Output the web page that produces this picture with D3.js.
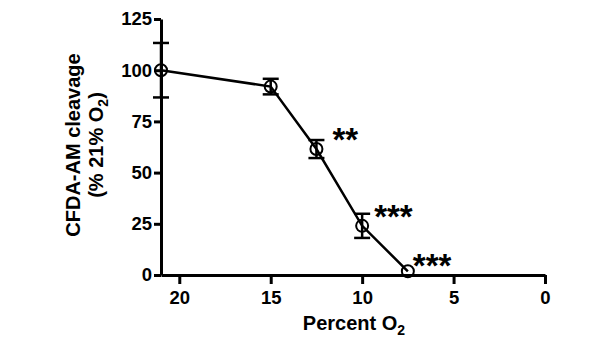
<!DOCTYPE html>
<html lang="en">
    <head>
        <meta charset="utf-8">
        <title>CFDA-AM cleavage</title>
        <script src="https://d3js.org/d3.v7.min.js"></script>
        <style type="text/css">
            body { margin: 0; background: white; }
            .axis path,
            .axis line {
                stroke: black;
                stroke-width: 3px;
            }
            .axis text {
                font-family: "Liberation Sans", Arial, sans-serif;
                font-size: 18.5px;
                font-weight: bold;
                fill: black;
            }
            .title {
                font-family: "Liberation Sans", Arial, sans-serif;
                font-size: 20px;
                font-weight: bold;
                fill: black;
            }
            .star {
                font-family: "Liberation Sans", Arial, sans-serif;
                font-size: 33px;
                font-weight: bold;
                fill: black;
            }
        </style>
    </head>
    <body>
        <script type="text/javascript">

            const w = 600;
            const h = 355;

            // data
            const oxygen = [21, 15, 12.5, 10, 7.5];
            const cleavage = [100, 92, 61.5, 24, 1.8];
            const sem = [13.3, 3.8, 4.4, 5.9, 0];
            const stars = ["", "", "**", "***", "***"];
            const xTicks = [20, 15, 10, 5, 0];
            const yTicks = [0, 25, 50, 75, 100, 125];

            // label nudges (px) for the asterisks, per point
            const starDx = [0, 0, 16, 12, 5];
            const starDy = [0, 0, 2, 2, 6];

            const data = oxygen.map((o, i) => ({o: o, v: cleavage[i], e: sem[i], s: stars[i], dx: starDx[i], dy: starDy[i]}));

            const xScale = d3.scaleLinear()
                             .domain([21, 0])
                             .range([161, 545]);

            const yScale = d3.scaleLinear()
                             .domain([0, 125])
                             .range([275, 19]);

            const svg = d3.select("body")
                    .append("svg")
                    .attr("width", w)
                    .attr("height", h);

            // bottom axis
            const bottomAxis = d3.axisBottom(xScale)
                                 .tickValues(xTicks)
                                 .tickSize(9)
                                 .tickSizeOuter(0)
                                 .tickPadding(7);

            svg.append("g")
               .attr("class", "axis")
               .attr("transform", "translate(0," + yScale(0) + ")")
               .call(bottomAxis);

            // left axis
            const leftAxis = d3.axisLeft(yScale)
                               .tickValues(yTicks)
                               .tickSize(7)
                               .tickSizeOuter(0)
                               .tickPadding(2);

            svg.append("g")
               .attr("class", "axis")
               .attr("transform", "translate(" + xScale(21) + ",0)")
               .call(leftAxis);

            // error bars
            const bars = svg.append("g");
            data.filter(d => d.e > 0).forEach(d => {
                const x = xScale(d.o);
                bars.append("line")
                    .attr("x1", x).attr("x2", x)
                    .attr("y1", yScale(d.v + d.e)).attr("y2", yScale(d.v - d.e))
                    .attr("stroke", "black").attr("stroke-width", 2.5);
                [d.v + d.e, d.v - d.e].forEach(v => {
                    bars.append("line")
                        .attr("x1", x - 8).attr("x2", x + 8)
                        .attr("y1", yScale(v)).attr("y2", yScale(v))
                        .attr("stroke", "black").attr("stroke-width", 2.5);
                });
            });

            // line
            const coords = d3.line()
                .x(d => xScale(d.o))
                .y(d => yScale(d.v));

            svg.append("path")
               .datum(data)
               .attr("d", coords)
               .attr("fill", "none")
               .attr("stroke", "black")
               .attr("stroke-width", 2.5);

            // points
            svg.selectAll(".pt")
               .data(data)
               .join("circle")
               .attr("class", "pt")
               .attr("cx", d => xScale(d.o))
               .attr("cy", d => yScale(d.v))
               .attr("r", 6)
               .attr("fill", "none")
               .attr("stroke", "black")
               .attr("stroke-width", 2);

            // significance stars
            svg.selectAll(".star")
               .data(data.filter(d => d.s))
               .join("text")
               .attr("class", "star")
               .attr("x", d => xScale(d.o) + d.dx)
               .attr("y", d => yScale(d.v) + d.dy)
               .text(d => d.s);

            // axis titles
            const xt = svg.append("text")
               .attr("class", "title")
               .attr("x", 354)
               .attr("y", 330)
               .attr("text-anchor", "middle");
            xt.append("tspan").text("Percent O");
            xt.append("tspan").attr("font-size", "14px").attr("dy", 5).text("2");

            const yt = svg.append("text")
               .attr("class", "title")
               .attr("font-size", "21px")
               .attr("transform", "translate(0,145) rotate(-90)")
               .attr("text-anchor", "middle");
            yt.append("tspan").attr("x", 0).attr("y", 80).text("CFDA-AM cleavage");
            const l2 = yt.append("tspan").attr("x", 0).attr("y", 103);
            l2.append("tspan").text("(% 21% O");
            l2.append("tspan").attr("font-size", "14px").attr("dy", 5).text("2");
            l2.append("tspan").attr("dy", -5).text(")");

        </script>
    </body>
</html>
